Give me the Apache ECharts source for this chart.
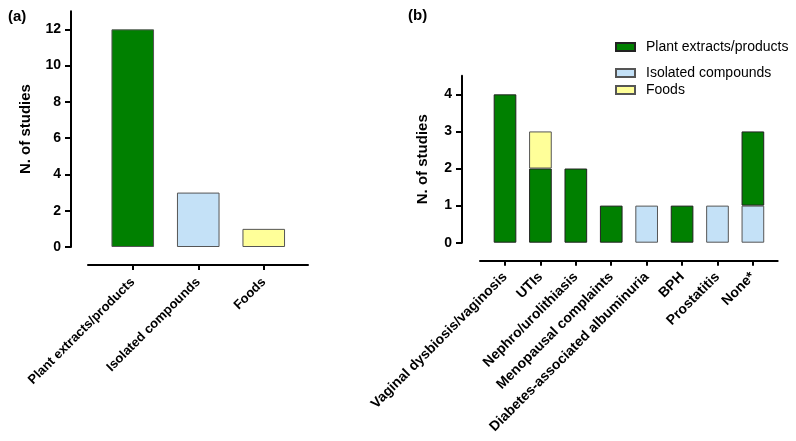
<!DOCTYPE html>
<html>
<head>
<meta charset="utf-8">
<script src="https://cdn.jsdelivr.net/npm/echarts@6/dist/echarts.min.js"></script>
<style>
  html, body { margin: 0; padding: 0; background: #fff; }
  #chart { width: 796px; height: 441px; }
</style>
</head>
<body>
<div id="chart"></div>
<script>
// panel (a)
const typeCategories = ["Plant extracts/products", "Isolated compounds", "Foods"];
const typeValues = [12, 3, 1];
const typeTicks = [0, 2, 4, 6, 8, 10, 12];

// panel (b)
const conditionCategories = [
  "Vaginal dysbiosis/vaginosis", "UTIs", "Nephro/urolithiasis", "Menopausal complaints",
  "Diabetes-associated albuminuria", "BPH", "Prostatitis", "None*"
];
const plantValues = [4, 2, 2, 1, 0, 1, 0, 2];
const isolatedValues = [0, 0, 0, 0, 1, 0, 1, 1];
const foodValues = [0, 1, 0, 0, 0, 0, 0, 0];
const conditionTicks = [0, 1, 2, 3, 4];

const GREEN = "#008000";
const BLUE = "#c4e1f7";
const YELLOW = "#ffff99";
const typeColors = [GREEN, BLUE, YELLOW];

const FONT = "Liberation Sans, Arial, sans-serif";
const axisLine = { show: true, onZero: false, lineStyle: { color: "#000", width: 2 } };
const tickStyle = { color: "#000", width: 2 };
const bold = { fontFamily: FONT, fontWeight: "bold", color: "#000" };

function nz(arr) {
  return arr.map(v => (v === 0 ? "-" : v));
}

const chart = echarts.init(document.getElementById("chart"));

const legendText = { fontFamily: FONT, fontSize: 14, color: "#000", padding: [0, 0, 0, 6] };

chart.setOption({
  backgroundColor: "#fff",
  animation: false,
  title: [
    { text: "(a)", left: 3, top: 4, textStyle: { ...bold, fontSize: 15 } },
    { text: "(b)", left: 403, top: 3, textStyle: { ...bold, fontSize: 15 } }
  ],
  legend: [
    {
      data: ["Plant extracts/products"],
      left: 610, top: 35, icon: "rect",
      itemWidth: 19, itemHeight: 8,
      selectedMode: false,
      textStyle: legendText
    },
    {
      data: ["Isolated compounds", "Foods"],
      orient: "vertical", icon: "rect",
      left: 610, top: 61,
      itemGap: 3,
      itemWidth: 19, itemHeight: 8,
      selectedMode: false,
      textStyle: legendText
    }
  ],
  grid: [
    // (a) bars
    { left: 100, width: 196.5, top: 11.2, height: 235.8 },
    // (a) full-length x axis line
    { left: 88, width: 220, top: 11.2, height: 235.8 },
    // (b) bars
    { left: 487.3, width: 283.3, top: 75.8, height: 166.9 },
    // (b) full-length x axis line
    { left: 480, width: 297.7, top: 75.8, height: 166.9 }
  ],
  xAxis: [
    {
      gridIndex: 0, type: "category", data: typeCategories, offset: 18,
      axisLine: { show: false, onZero: false },
      axisTick: { show: true, alignWithLabel: true, length: 5, lineStyle: tickStyle },
      axisLabel: { ...bold, fontSize: 13, rotate: 45, margin: 15, interval: 0 }
    },
    {
      gridIndex: 1, type: "value", offset: 18, min: 0, max: 1,
      axisLine: axisLine, axisTick: { show: false }, axisLabel: { show: false }, splitLine: { show: false }
    },
    {
      gridIndex: 2, type: "category", data: conditionCategories, offset: 18,
      axisLine: { show: false, onZero: false },
      axisTick: { show: true, alignWithLabel: true, length: 5, lineStyle: tickStyle },
      axisLabel: { ...bold, fontSize: 14, rotate: 45, margin: 14, interval: 0 }
    },
    {
      gridIndex: 3, type: "value", offset: 18, min: 0, max: 1,
      axisLine: axisLine, axisTick: { show: false }, axisLabel: { show: false }, splitLine: { show: false }
    }
  ],
  yAxis: [
    {
      gridIndex: 0, type: "value", min: 0, max: 13, offset: 29,
      name: "N. of studies", nameLocation: "middle", nameRotate: 90, nameGap: 38,
      nameTextStyle: { ...bold, fontSize: 15 },
      axisLine: axisLine,
      axisTick: { show: true, length: 6, lineStyle: tickStyle, customValues: typeTicks },
      axisLabel: { ...bold, fontSize: 14, margin: 10, customValues: typeTicks },
      splitLine: { show: false }
    },
    { gridIndex: 1, type: "value", min: 0, max: 1, show: false },
    {
      gridIndex: 2, type: "value", min: 0, max: 4.5, offset: 25.3,
      name: "N. of studies", nameLocation: "middle", nameRotate: 90, nameGap: 32,
      nameTextStyle: { ...bold, fontSize: 15 },
      axisLine: axisLine,
      axisTick: { show: true, length: 6, lineStyle: tickStyle, customValues: conditionTicks },
      axisLabel: { ...bold, fontSize: 14, margin: 10, customValues: conditionTicks },
      splitLine: { show: false }
    },
    { gridIndex: 3, type: "value", min: 0, max: 1, show: false }
  ],
  series: [
    {
      name: "Study type", type: "bar", xAxisIndex: 0, yAxisIndex: 0,
      barWidth: "65%",
      data: typeValues.map((v, i) => ({
        value: v,
        itemStyle: { color: typeColors[i], borderColor: "#555", borderWidth: 1 }
      }))
    },
    {
      name: "Isolated compounds", type: "bar", stack: "b", xAxisIndex: 2, yAxisIndex: 2,
      barWidth: "64%", data: nz(isolatedValues),
      itemStyle: { color: BLUE, borderColor: "#555", borderWidth: 1 }
    },
    {
      name: "Plant extracts/products", type: "bar", stack: "b", xAxisIndex: 2, yAxisIndex: 2,
      barWidth: "64%", data: nz(plantValues),
      itemStyle: { color: GREEN, borderColor: "#222", borderWidth: 1 }
    },
    {
      name: "Foods", type: "bar", stack: "b", xAxisIndex: 2, yAxisIndex: 2,
      barWidth: "64%", data: nz(foodValues),
      itemStyle: { color: YELLOW, borderColor: "#555", borderWidth: 1 }
    }
  ]
});
</script>
</body>
</html>
